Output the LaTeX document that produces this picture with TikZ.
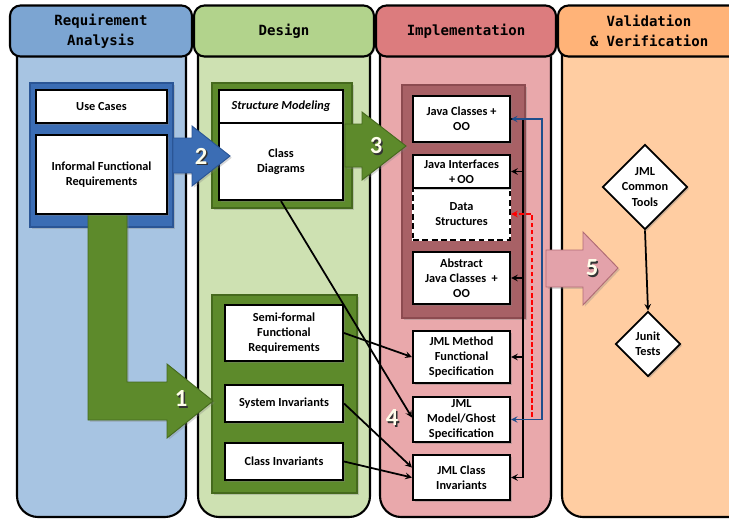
\documentclass[tikz,border=0pt]{standalone}
\usepackage{fontspec}
\setmainfont{Carlito}
\newfontfamily\headfont{DejaVu Sans Mono}
\usetikzlibrary{shapes.geometric, arrows, shadows}

\definecolor{reqtab}{HTML}{7CA5D2}
\definecolor{reqbody}{HTML}{A7C4E2}
\definecolor{destab}{HTML}{B2D38C}
\definecolor{desbody}{HTML}{CEE1B2}
\definecolor{imptab}{HTML}{DC7C7E}
\definecolor{impbody}{HTML}{E9A8AB}
\definecolor{valtab}{HTML}{FFB378}
\definecolor{valbody}{HTML}{FFCDA2}
\definecolor{reqgroup}{HTML}{3B6DB4}
\definecolor{reqedge}{HTML}{2A5595}
\definecolor{desgroup}{HTML}{5D8A2B}
\definecolor{desedge}{HTML}{45691D}
\definecolor{impgroup}{HTML}{A86166}
\definecolor{impedge}{HTML}{8C4B50}
\definecolor{valarrow}{HTML}{E3A2AA}
\definecolor{valedge}{HTML}{B06C75}
\definecolor{navy}{HTML}{1F4E8C}

\tikzstyle{tab} = [rectangle, rounded corners=9pt, draw=black, line width=1.8pt, minimum height=1.53cm, align=center, font=\headfont\fontsize{12}{17}\selectfont\bfseries, drop shadow={opacity=0.35, shadow xshift=1pt, shadow yshift=-1pt}]
\tikzstyle{body} = [draw=black, line width=1.8pt]
\tikzstyle{group} = [line width=1pt, drop shadow={opacity=0.35, shadow xshift=1.5pt, shadow yshift=-1.5pt}]
\tikzstyle{statement} = [rectangle, draw=black, line width=1.8pt, fill=white, align=center, inner sep=1pt, font=\fontsize{10.5}{13}\selectfont\bfseries, drop shadow={opacity=0.4, shadow xshift=1.5pt, shadow yshift=-1.5pt}]
\tikzstyle{dashedbox} = [rectangle, draw=white, line width=1.8pt, fill=white, align=center, inner sep=1pt, font=\fontsize{10.5}{13}\selectfont\bfseries, postaction={draw=black, dash pattern=on 5pt off 3pt}]
\tikzstyle{decision} = [diamond, draw=black, line width=1.5pt, fill=white, align=center, inner sep=0pt, font=\fontsize{10.5}{13}\selectfont\bfseries, drop shadow={opacity=0.4, shadow xshift=1.5pt, shadow yshift=-1.5pt}]
\tikzstyle{blockarrow} = [line width=0.8pt, drop shadow={opacity=0.3, shadow xshift=1.5pt, shadow yshift=-1.5pt}]
\tikzstyle{edge} = [line width=1.5pt, ->, >=stealth]
\tikzstyle{steplabel} = [font=\fontsize{21}{21}\selectfont\bfseries, text=white!92!yellow]
\tikzstyle{stepshadow} = [font=\fontsize{21}{21}\selectfont\bfseries, text=black!80]

\begin{document}
\begin{tikzpicture}[x=0.03cm, y=-0.03cm]
\clip (0,0) rectangle (729,521);
\fill[white] (0,0) rectangle (729,521);

% columns
\draw[body, fill=reqbody] (17,50) [rounded corners=18pt] -- (17,517) -- (186,517) -- (186,50);
\draw[body, fill=desbody] (198,50) [rounded corners=18pt] -- (198,517) -- (370,517) -- (370,50);
\draw[body, fill=impbody] (380,50) [rounded corners=18pt] -- (380,517) -- (551,517) -- (551,50);
\draw[body, fill=valbody] (562,50) [rounded corners=18pt] -- (562,517) -- (760,517) -- (760,50);

\node[tab, fill=reqtab, minimum width=5.46cm] (reqhead) at (101,31) {Requirement\\Analysis};
\node[tab, fill=destab, minimum width=5.4cm] (deshead) at (284,31) {Design};
\node[tab, fill=imptab, minimum width=5.4cm] (imphead) at (466,31) {Implementation};
\node[tab, fill=valtab, minimum width=5.46cm] (valhead) at (649,31) {Validation\\\& Verification};

% groups
\draw[group, fill=reqgroup, draw=reqedge] (30,83) rectangle (173,227);
\draw[group, fill=desgroup, draw=desedge] (212,83) rectangle (352,208);
\draw[group, fill=desgroup, draw=desedge] (212,295) rectangle (357,493);
\draw[group, fill=impgroup, draw=impedge] (402,85) rectangle (525,318);

% 1
\draw[blockarrow, fill=desgroup, draw=desedge] (88,214) -- (127,214) -- (127,382) -- (167,382) -- (167,364) -- (213,401) -- (167,438) -- (167,420) -- (88,420) -- cycle;

% requirement analysis
\node[statement, minimum width=3.93cm, minimum height=0.99cm] (usecases) at (101.5,106.5) {Use Cases};
\node[statement, minimum width=3.93cm, minimum height=2.37cm] (informal) at (101.5,174.5) {Informal Functional\\Requirements};

% design
\node[statement, minimum width=3.72cm, minimum height=0.99cm, font=\fontsize{10.5}{13}\selectfont\bfseries\itshape] (structmod) at (281,106.5) {Structure Modeling};
\node[statement, minimum width=3.72cm, minimum height=2.31cm] (classdiag) at (281,161.5) {Class\\Diagrams};
\node[statement, minimum width=3.54cm, minimum height=1.68cm] (semiformal) at (284,333) {Semi-formal\\Functional\\Requirements};
\node[statement, minimum width=3.54cm, minimum height=1.11cm] (sysinv) at (284,403.5) {System Invariants};
\node[statement, minimum width=3.54cm, minimum height=1.11cm] (classinv) at (284,461.5) {Class Invariants};

% implementation
\node[statement, minimum width=2.91cm, minimum height=1.38cm] (javaclasses) at (461.5,119) {Java Classes +\\OO};
\node[dashedbox, minimum width=2.91cm, minimum height=1.56cm] (datastruct) at (461.5,214) {Data\\Structures};
\node[statement, minimum width=2.91cm, minimum height=0.99cm] (javainterf) at (461.5,171.5) {Java Interfaces\\+\,OO};
\node[statement, minimum width=2.91cm, minimum height=1.56cm] (abstractjava) at (461.5,278) {Abstract\\Java Classes\ \ +\\OO};
\node[statement, minimum width=2.91cm, minimum height=1.56cm] (jmlmethod) at (461.5,357) {JML Method\\Functional\\Specification};
\node[statement, minimum width=2.91cm, minimum height=1.35cm] (jmlghost) at (461.5,419.5) {JML\\Model/Ghost\\Specification};
\node[statement, minimum width=2.91cm, minimum height=1.35cm] (jmlclassinv) at (461.5,477.5) {JML Class\\Invariants};

% validation & verification
\node[decision, minimum width=2.55cm, minimum height=2.37cm] (jmltools) at (645,187) {JML\\Common\\Tools};
\node[decision, minimum width=1.95cm, minimum height=1.95cm] (junit) at (648,344) {Junit\\Tests};

% 2, 3, 5
\draw[blockarrow, fill=reqgroup, draw=reqedge] (173,138) -- (192,138) -- (192,126) -- (230,156) -- (192,186) -- (192,173) -- (173,173) -- cycle;
\draw[blockarrow, fill=desgroup, draw=desedge] (345,124) -- (362,124) -- (362,112) -- (406,146) -- (362,180) -- (362,167) -- (345,167) -- cycle;
\draw[blockarrow, fill=valarrow, draw=valedge] (546,250) -- (583,250) -- (583,232) -- (618,268) -- (583,305) -- (583,287) -- (546,287) -- cycle;

% links
\coordinate (bustop) at (523,119);
\coordinate (busbot) at (523,477.5);
\coordinate (redstart) at (532,417);
\draw[line width=1.7pt] (javaclasses.east) -- (bustop) -- (busbot);
\draw[edge] (bustop |- javainterf.east) -- (javainterf.east);
\draw[edge] (bustop |- abstractjava.east) -- (abstractjava.east);
\draw[edge] (bustop |- jmlmethod.east) -- (jmlmethod.east);
\draw[edge] (busbot) -- (jmlclassinv.east);
\draw[line width=1.5pt, dash pattern=on 4pt off 2pt, red, ->, >=stealth] (redstart) |- (datastruct.east);
\draw[line width=1.4pt, navy, <->, >=stealth] (javaclasses.east) -- ++(31,0) |- (jmlghost.east);

\draw[edge] (semiformal.east) -- (jmlmethod.west);
\draw[edge] (classdiag.south) -- ([yshift=0.06cm]jmlghost.west);
\draw[edge] (sysinv.east) -- ([yshift=0.3cm]jmlclassinv.west);
\draw[edge] (classinv.east) -- (jmlclassinv.west);
\draw[edge] (jmltools.south) -- (junit.north);

% step numbers
\node[stepshadow] (s1) at (182.5,400.5) {1};
\node[steplabel] (n1) at (181,399) {1};
\node[stepshadow] (s2) at (202.5,157.5) {2};
\node[steplabel] (n2) at (201,156) {2};
\node[stepshadow] (s3) at (377.5,147.5) {3};
\node[steplabel] (n3) at (376,146) {3};
\node[stepshadow] (s4) at (393.5,419.5) {4};
\node[steplabel] (n4) at (392,418) {4};
\node[stepshadow] (s5) at (593.5,269.5) {5};
\node[steplabel] (n5) at (592,268) {5};

\end{tikzpicture}
\end{document}
